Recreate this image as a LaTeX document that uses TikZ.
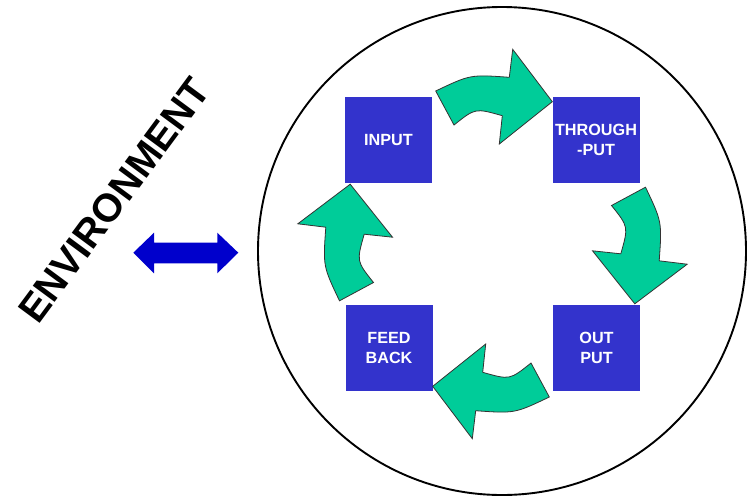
\documentclass[tikz,border=0pt]{standalone}
\usepackage{fontspec}
\setmainfont{Liberation Sans}
\definecolor{boxblue}{RGB}{51,51,204}
\definecolor{cycgreen}{RGB}{0,204,153}
\definecolor{envblue}{RGB}{0,0,204}
\begin{document}
\begin{tikzpicture}[x=1pt,y=1pt,
  stagebox/.style={fill=boxblue, draw=none, minimum width=87pt, minimum height=86pt,
    inner sep=0pt, text=white, align=center, font=\bfseries\fontsize{16.2}{20.5}\selectfont},
  cycarrow/.style={fill=cycgreen, draw=black!80, line width=0.8pt, line join=miter},
  cyc/.pic={
    \draw[cycarrow] (-56.8,153) .. controls (-22.2,169.5) .. (16.8,166.7)
      -- (20.2,194.7) -- (59.8,142.3) -- (6.8,100) -- (9.8,128.3)
      .. controls (-17.25,136) .. (-38.5,119) -- cycle;
  }]
\useasboundingbox (0,0) rectangle (751,-496);
\fill[white] (0,0) rectangle (751,-496);
\node[circle, draw=black, line width=1.9pt, minimum size=488pt, inner sep=0pt] (env) at (502,-251) {};
\coordinate (C) at (492.5,-244);
\node[stagebox] (input) at (388.5,-140) {INPUT};
\node[stagebox] (through) at (596,-140) {THROUGH\\-PUT};
\node[stagebox] (output) at (596.5,-348) {OUT\\PUT};
\node[stagebox] (feedback) at (389,-348) {FEED\\BACK};
\pic at (C) {cyc};
\pic[rotate=-90] at (C) {cyc};
\pic[rotate=180] at (C) {cyc};
\pic[rotate=90] at (C) {cyc};
\fill[envblue] (133.3,-252.7) -- (154,-232.7) -- (154,-242.7) -- (217.3,-242.7) -- (217.3,-232.7)
  -- (238.3,-252.7) -- (217.3,-273.3) -- (217.3,-263.3) -- (154,-263.3) -- (154,-273.3) -- cycle;
\node[rotate=53.5, inner sep=0pt, font=\bfseries\fontsize{39.5}{39.5}\selectfont] (envlabel) at (114,-200) {ENVIRONMENT};
\end{tikzpicture}
\end{document}
